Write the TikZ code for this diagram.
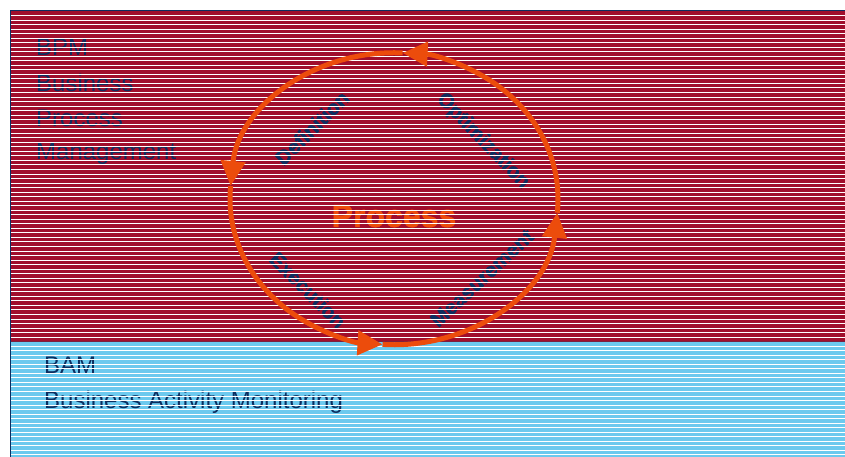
\documentclass[tikz,border=0pt]{standalone}
\usepackage{fontspec}
\setmainfont{Liberation Sans}
\newfontfamily\heavyfont[FakeBold=1.2]{Liberation Sans Bold}
\usetikzlibrary{arrows.meta}
\definecolor{bpmred}{RGB}{160,14,44}
\definecolor{bamblue}{RGB}{108,201,238}
\definecolor{navytxt}{RGB}{12,46,96}
\definecolor{procorange}{RGB}{236,76,12}
\definecolor{seam}{RGB}{122,32,64}
\begin{document}
\begin{tikzpicture}[x=1pt,y=1pt,
  heading/.style={anchor=base west, inner sep=0pt, text=navytxt, font=\fontsize{24}{24}\selectfont},
  phase/.style={inner sep=0pt, text=navytxt, font=\heavyfont\fontsize{20.5}{20.5}\selectfont},
  scanline/.style={white, line width=1pt},
  cyc/.style={draw=procorange, line width=5pt, -{Triangle[length=25pt,width=24pt]}}]
\useasboundingbox (0,0) rectangle (845,457);
% panels
\fill[bpmred] (10,115) rectangle (845,446.5);
\fill[bamblue] (10,0) rectangle (845,115);
% texts (under the scan lines)
\node[heading] (bpm1) at (36,401) {BPM};
\node[heading] (bpm2) at (36,365.3) {Business};
\node[heading] (bpm3) at (36,330) {Process};
\node[heading] (bpm4) at (36,297.5) {Management};
\node[heading] (bam1) at (44,83) {BAM};
\node[heading] (bam2) at (44,48.7) {Business Activity Monitoring};
\node[anchor=base, inner sep=0pt, text=procorange, font=\heavyfont\fontsize{32}{32}\selectfont] (proc) at (394,230) {Process};
\node[phase, rotate=45] (def) at (312,329) {Definition};
\node[phase, rotate=-46] (opt) at (483,316) {Optimization};
\node[phase, rotate=-45] (exe) at (308,167) {Execution};
\node[phase, rotate=43] (mea) at (482,179) {Measurement};
% scan lines, snapped to pixel rows
\foreach \k in {0,...,97}{
  \pgfmathsetmacro\yy{round(441-4.53*\k)+0.5}
  \draw[scanline] (10,\yy) -- (845,\yy);
}
% seam and borders
\draw[seam, line width=1pt] (10,115.5) -- (845,115.5);
\draw[navytxt, line width=1pt] (10.5,0) -- (10.5,446.5) -- (845,446.5);
% cycle
\coordinate (c) at (394,258.25);
\draw[cyc] ([shift={(-5.5:164 and 146)}]c) arc[start angle=-5.5, end angle=87, x radius=164, y radius=146];
\draw[cyc] ([shift={(87:164 and 146)}]c) arc[start angle=87, end angle=175, x radius=164, y radius=146];
\draw[cyc] ([shift={(175:164 and 146)}]c) arc[start angle=175, end angle=266, x radius=164, y radius=146];
\draw[cyc] ([shift={(266:164 and 146)}]c) arc[start angle=266, end angle=354.5, x radius=164, y radius=146];
\end{tikzpicture}
\end{document}
